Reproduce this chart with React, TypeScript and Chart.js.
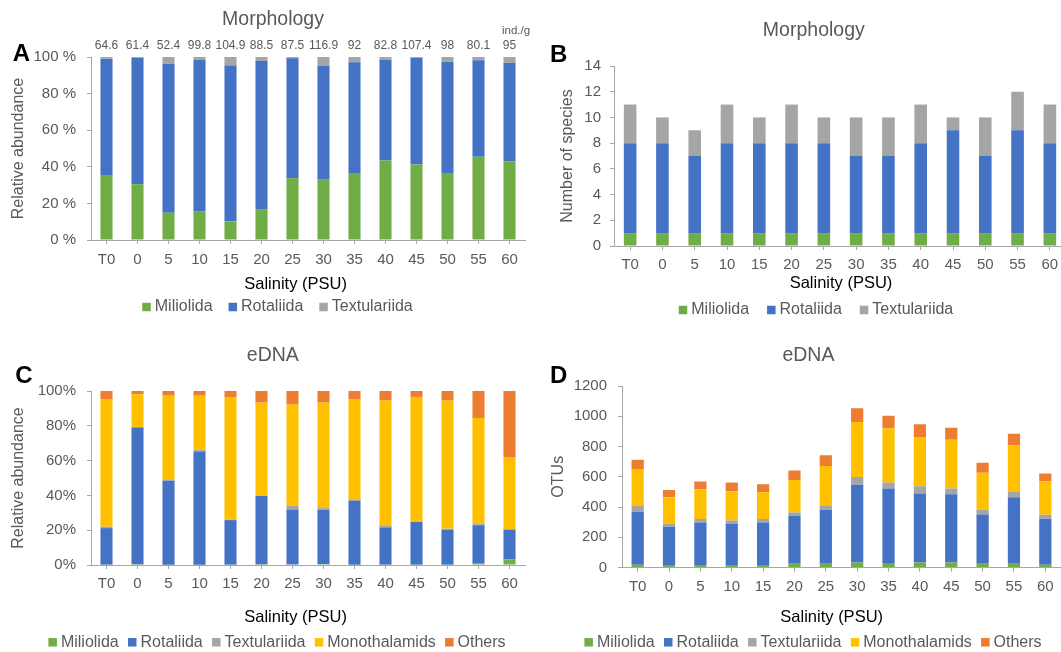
import { useEffect, useRef } from "react";
import { Chart, registerables } from "chart.js";

Chart.register(...registerables);

const FONT = '"Liberation Sans", Arial, sans-serif';
const TEXT = "#595959";
const AXIS = "#a6a6a6";
const CW = 1080;
const CH = 652;

Chart.defaults.font.family = FONT;

const salinity = ["T0", "0", "5", "10", "15", "20", "25", "30", "35", "40", "45", "50", "55", "60"];

// A - morphology, relative abundance (%)
const morphMiliolida = [35.5, 30.5, 14.9, 15.8, 10.2, 16.9, 33.8, 33.3, 36.2, 43.5, 41.3, 36.2, 45.5, 43.1];
const morphRotaliida = [63.6, 69.1, 81.3, 82.9, 85.1, 80.9, 65.5, 61.8, 60.9, 55.2, 58.3, 61.1, 52.7, 53.8];
const morphTextulariida = [0.9, 0.4, 3.8, 1.3, 4.7, 2.2, 0.7, 4.9, 2.9, 1.3, 0.4, 2.7, 1.8, 3.1];
const morphDensity = [64.6, 61.4, 52.4, 99.8, 104.9, 88.5, 87.5, 116.9, 92, 82.8, 107.4, 98, 80.1, 95];

// B - morphology, number of species
const sppMiliolida = [1, 1, 1, 1, 1, 1, 1, 1, 1, 1, 1, 1, 1, 1];
const sppRotaliida = [7, 7, 6, 7, 7, 7, 7, 6, 6, 7, 8, 6, 8, 7];
const sppTextulariida = [3, 2, 2, 3, 2, 3, 2, 3, 3, 3, 1, 3, 3, 3];

// C - eDNA, relative abundance (%)
const dnaMiliolida = [0.2, 0.5, 0.2, 0.2, 0.2, 0.5, 0.3, 0.5, 0.2, 0.2, 0.2, 0.2, 1.1, 3.2];
const dnaRotaliida = [21.0, 78.5, 48.2, 65.0, 25.6, 39.1, 31.6, 31.2, 36.7, 21.4, 24.5, 19.9, 21.8, 17.1];
const dnaTextulariida = [0.8, 0.3, 0.4, 1.1, 0.2, 0.4, 2.3, 1.0, 0.8, 1.2, 0.4, 0.7, 0.6, 0.3];
const dnaMonothalamids = [73.4, 18.8, 48.5, 31.0, 70.2, 53.3, 58.0, 60.6, 57.7, 71.7, 71.5, 73.7, 61.0, 41.5];
const dnaOthers = [4.6, 1.9, 2.7, 2.7, 3.8, 6.7, 7.8, 6.7, 4.6, 5.5, 3.4, 5.5, 15.5, 37.9];

// D - eDNA, OTUs
const otuMiliolida = [18, 16, 16, 16, 16, 24, 24, 33, 29, 33, 33, 24, 29, 18];
const otuRotaliida = [351, 253, 282, 271, 282, 316, 358, 514, 493, 456, 451, 327, 435, 304];
const otuTextulariida = [38, 18, 22, 24, 22, 24, 29, 51, 40, 49, 38, 31, 38, 27];
const otuMonothalamids = [244, 177, 198, 193, 178, 214, 260, 364, 358, 324, 322, 245, 307, 220];
const otuOthers = [62, 49, 51, 58, 53, 64, 71, 91, 84, 85, 80, 66, 75, 53];

const colors: Record<string, string> = {
  Miliolida: "#70ad47",
  Rotaliida: "#4472c4",
  Textulariida: "#a5a5a5",
  Monothalamids: "#ffc000",
  Others: "#ed7d31",
};

interface PanelCfg {
  series: [string, number[]][];
  yMax: number;
  yStep: number;
  yFmt: (v: number) => string;
  yTitle: string;
  yTitlePad: number;
  yLeft: number;
  yTickPad: number;
  xTickPad: number;
  area: { left: number; right: number; top: number; bottom: number };
  letter: [string, number, number];
  title: [string, number, number];
  xTitle: [number, number];
  legend: [number, number, number];
  top?: { values: number[]; y: number; unit: [string, number, number] };
}

const panels: PanelCfg[] = [
  {
    series: [["Miliolida", morphMiliolida], ["Rotaliida", morphRotaliida], ["Textulariida", morphTextulariida]],
    yMax: 100, yStep: 20, yFmt: v => v + " %", yTitle: "Relative abundance", yTitlePad: 10.6,
    yLeft: 0, yTickPad: 11, xTickPad: 7,
    area: { left: 91, right: 525, top: 57, bottom: 240 },
    letter: ["A", 12.7, 54], title: ["Morphology", 273, 20], xTitle: [295.6, 284], legend: [277.5, 307, 16],
    top: { values: morphDensity, y: 46, unit: ["ind./g", 516, 31] },
  },
  {
    series: [["Miliolida", sppMiliolida], ["Rotaliida", sppRotaliida], ["Textulariida", sppTextulariida]],
    yMax: 14, yStep: 2, yFmt: v => String(v), yTitle: "Number of species", yTitlePad: 20,
    yLeft: 540, yTickPad: 9, xTickPad: 5.5,
    area: { left: 614, right: 1066, top: 66, bottom: 246 },
    letter: ["B", 550, 55], title: ["Morphology", 813.8, 30.7], xTitle: [841, 283.3], legend: [816, 310, 18],
  },
  {
    series: [["Miliolida", dnaMiliolida], ["Rotaliida", dnaRotaliida], ["Textulariida", dnaTextulariida],
      ["Monothalamids", dnaMonothalamids], ["Others", dnaOthers]],
    yMax: 100, yStep: 20, yFmt: v => v + "%", yTitle: "Relative abundance", yTitlePad: 10.6,
    yLeft: 0, yTickPad: 11, xTickPad: 6,
    area: { left: 91, right: 525, top: 391, bottom: 565 },
    letter: ["C", 15.2, 376.7], title: ["eDNA", 272.8, 356], xTitle: [295.6, 617.3], legend: [277, 642.3, 9.3],
  },
  {
    series: [["Miliolida", otuMiliolida], ["Rotaliida", otuRotaliida], ["Textulariida", otuTextulariida],
      ["Monothalamids", otuMonothalamids], ["Others", otuOthers]],
    yMax: 1200, yStep: 200, yFmt: v => String(v), yTitle: "OTUs", yTitlePad: 10.8,
    yLeft: 540, yTickPad: 11, xTickPad: 6.2,
    area: { left: 622, right: 1061, top: 386, bottom: 567.5 },
    letter: ["D", 550, 376.7], title: ["eDNA", 808.4, 356], xTitle: [831.7, 617.3], legend: [813, 642.3, 9.3],
  },
];

function decorPlugin(p: PanelCfg) {
  return {
    id: "decor",
    afterDraw(chart: any) {
      const ctx: CanvasRenderingContext2D = chart.ctx;
      ctx.save();
      ctx.textBaseline = "middle";

      ctx.fillStyle = "#000";
      ctx.font = `bold 24px ${FONT}`;
      ctx.textAlign = "left";
      ctx.fillText(p.letter[0], p.letter[1], p.letter[2]);

      ctx.fillStyle = TEXT;
      ctx.font = `19.5px ${FONT}`;
      ctx.textAlign = "center";
      ctx.fillText(p.title[0], p.title[1], p.title[2]);

      ctx.fillStyle = "#000";
      ctx.font = `16.5px ${FONT}`;
      ctx.fillText("Salinity (PSU)", p.xTitle[0], p.xTitle[1]);

      if (p.top) {
        ctx.fillStyle = TEXT;
        ctx.font = `12px ${FONT}`;
        p.top.values.forEach((v, i) => {
          ctx.fillText(String(v), chart.scales.x.getPixelForValue(i), p.top!.y);
        });
        ctx.font = `11.5px ${FONT}`;
        ctx.fillText(p.top.unit[0], p.top.unit[1], p.top.unit[2]);
      }

      // legend
      const box = 8.5;
      const gap = 4;
      ctx.font = `16px ${FONT}`;
      const items = chart.data.datasets.map((d: any) => ({
        label: d.label as string,
        color: d.backgroundColor as string,
        w: box + gap + ctx.measureText(d.label).width,
      }));
      const [cx, ly, spacing] = p.legend;
      const total = items.reduce((s: number, it: any) => s + it.w, 0) + spacing * (items.length - 1);
      let x = cx - total / 2;
      ctx.textAlign = "left";
      items.forEach((it: any) => {
        ctx.fillStyle = it.color;
        ctx.fillRect(x, ly - box / 2, box, box);
        ctx.fillStyle = TEXT;
        ctx.fillText(it.label, x + box + gap, ly);
        x += it.w + spacing;
      });
      ctx.restore();
    },
  };
}

function buildConfig(p: PanelCfg): any {
  const tickFont = { size: 15 };
  const xScaleH = 4 + 15 * 1.2 + 2 * p.xTickPad;
  const yWidth = p.area.left - p.yLeft;
  return {
    type: "bar",
    data: {
      labels: salinity,
      datasets: p.series.map(([name, values]) => ({
        label: name,
        data: values,
        backgroundColor: colors[name],
        borderWidth: 0,
        barPercentage: 0.39,
        categoryPercentage: 1,
      })),
    },
    options: {
      responsive: false,
      animation: false,
      layout: {
        padding: {
          left: p.yLeft,
          top: p.area.top,
          right: CW - p.area.right,
          bottom: CH - p.area.bottom - xScaleH,
        },
      },
      plugins: {
        legend: { display: false },
        title: { display: false },
        tooltip: { enabled: false },
      },
      scales: {
        x: {
          stacked: true,
          grid: { display: true, drawOnChartArea: false, offset: false, tickLength: 4, color: AXIS },
          border: { color: AXIS },
          ticks: { font: tickFont, color: TEXT, padding: p.xTickPad, maxRotation: 0, autoSkip: false },
        },
        y: {
          stacked: true,
          min: 0,
          max: p.yMax,
          grid: { drawOnChartArea: false, tickLength: 4, color: AXIS },
          border: { color: AXIS },
          ticks: { stepSize: p.yStep, font: tickFont, color: TEXT, padding: p.yTickPad, callback: (v: number) => p.yFmt(v) },
          title: {
            display: true,
            text: p.yTitle,
            color: TEXT,
            font: { size: 16, lineHeight: 1 },
            padding: { top: p.yTitlePad, bottom: 0 },
          },
          afterFit: (scale: any) => {
            scale.width = yWidth;
          },
        },
      },
    },
    plugins: [decorPlugin(p)],
  };
}

function PanelChart({ p }: { p: PanelCfg }) {
  const canvasRef = useRef<HTMLCanvasElement>(null);

  useEffect(() => {
    if (!canvasRef.current) return;
    const chart = new Chart(canvasRef.current, buildConfig(p));
    return () => chart.destroy();
  }, [p]);

  return (
    <canvas
      ref={canvasRef}
      width={CW}
      height={CH}
      style={{ position: "absolute", left: 0, top: 0 }}
    />
  );
}

export default function App() {
  useEffect(() => {
    document.body.style.margin = "0";
    document.body.style.overflow = "hidden";
  }, []);

  return (
    <div style={{ position: "fixed", left: 0, top: 0, width: 1061, height: 652, overflow: "hidden", background: "#fff" }}>
      {panels.map((p, i) => (
        <PanelChart key={i} p={p} />
      ))}
    </div>
  );
}
